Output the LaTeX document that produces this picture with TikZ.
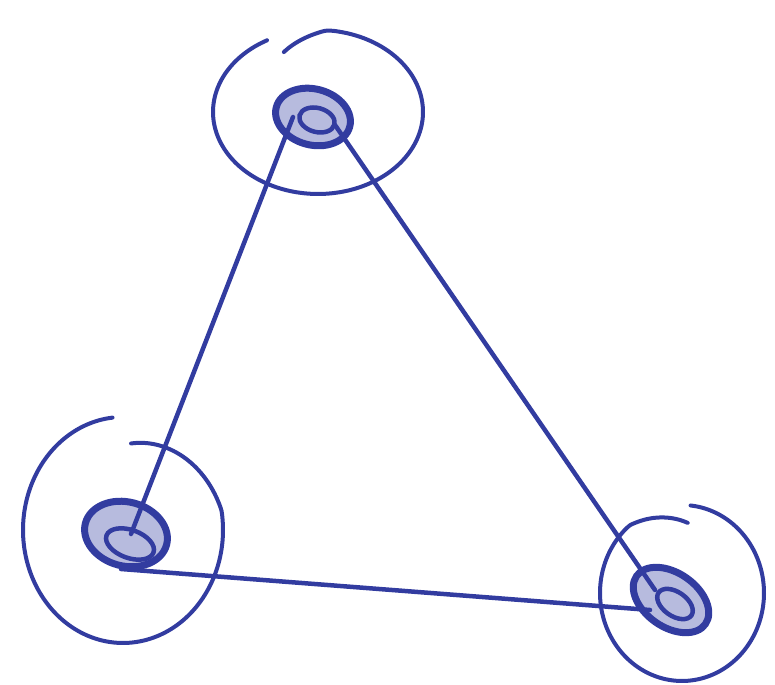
\documentclass[tikz,border=0pt]{standalone}
\usepackage{tikz}
\usetikzlibrary{shapes.geometric}
\definecolor{penblue}{RGB}{50, 60, 160}

\begin{document}
\begin{tikzpicture}[
  x=1bp, y=1bp,
  knot/.style={ellipse, draw=penblue, fill=penblue!35, line width=7bp, inner sep=0pt},
  core/.style={ellipse, draw=penblue, line width=4.5bp, inner sep=0pt},
  edge/.style={draw=penblue, line width=4.5bp, line cap=round},
  ring/.style={draw=penblue, line width=4bp, line cap=round, line join=round}
]
  \useasboundingbox (0,0) rectangle (775,685);

  % outer swirls
  \draw[ring] plot[smooth, domain=119:474, samples=90, variable=\t]
    ({318 + 105*(1-0.2*max(0,(\t-445)/29))*cos(\t)}, {573 + 82*(1-0.2*max(0,(\t-445)/29))*sin(\t)});
  \draw[ring] plot[smooth, domain=96:444, samples=90, variable=\t]
    ({123 + 100*(1-0.23*max(0,(\t-370)/74))*cos(\t)}, {155 + 113*(1-0.23*max(0,(\t-370)/74))*sin(\t)});
  \draw[ring] plot[smooth, domain=85:444, samples=90, variable=\t]
    ({682 + 82*(1-0.2*max(0,(130-\t)/45))*cos(\t)}, {92 + 88*(1-0.2*max(0,(130-\t)/45))*sin(\t)});

  % vertices
  \node[knot, minimum width=76bp, minimum height=56bp, rotate=-15] (top) at (313,568) {};
  \node[knot, minimum width=84bp, minimum height=64bp, rotate=-15] (bl) at (126,151) {};
  \node[knot, minimum width=84bp, minimum height=54bp, rotate=-35] (br) at (671,85) {};

  \node[core, minimum width=36bp, minimum height=24bp, rotate=-15] (topin) at ([shift={(4,-3)}]top.center) {};
  \node[core, minimum width=50bp, minimum height=28bp, rotate=-20] (blin) at ([shift={(4,-10)}]bl.center) {};
  \node[core, minimum width=40bp, minimum height=24bp, rotate=-35] (brin) at ([shift={(4,-4)}]br.center) {};

  % edges
  \draw[edge] ([xshift=-20bp]top.center) -- ([xshift=5bp]bl.center);
  \draw[edge] ([shift={(22,-8)}]top.center) -- ([shift={(-16,10)}]br.center);
  \draw[edge] ([shift={(-5,-35)}]bl.center) -- ([shift={(-21,-10)}]br.center);

\end{tikzpicture}
\end{document}
